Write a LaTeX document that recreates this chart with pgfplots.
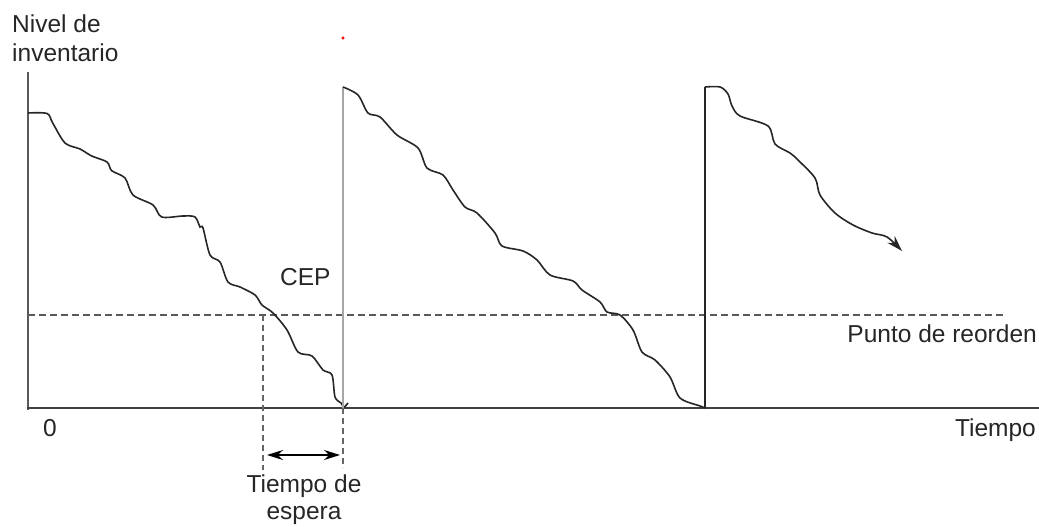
\documentclass[border=0pt]{standalone}
\usepackage{pgfplots}
\pgfplotsset{compat=1.18}
\usepackage{fontspec}
\setmainfont{Liberation Sans}
\usetikzlibrary{arrows.meta}
\begin{document}
\fontsize{24.5}{29}\selectfont
\begin{tikzpicture}
\begin{axis}[
  width=1039pt, height=527pt, scale only axis,
  xmin=-28, xmax=1011, ymin=-119, ymax=408,
  hide axis, clip=false,
]
% axes
\addplot[gray!70!black, line width=1.8pt] coordinates {(0,-2) (0,336)};
\addplot[gray!50!black, line width=1.8pt] coordinates {(-1,0) (1011,0)};
% reorder point
\addplot[gray!70!black, line width=1.7pt, dash pattern=on 7pt off 4pt] coordinates {(0,93) (975,93)};
% lead time dashed verticals
\addplot[gray!80!black, line width=1.3pt, dash pattern=on 6pt off 4pt] coordinates {(235,93) (235,-62)};
\addplot[gray!80!black, line width=1.3pt, dash pattern=on 6pt off 4pt] coordinates {(315,0) (315,-60)};
\addplot[black, line width=1.3pt, {Stealth[length=16pt,width=10pt]}-{Stealth[length=16pt,width=10pt]}] coordinates {(239,-47) (312,-47)};
% cycle 1
\addplot[black!85, line width=1.6pt, smooth, tension=0.5] coordinates {
(0,295) (19,294.5) (24.7,285) (37,265) (52,259) (63.7,252) (79,246) (83.7,237.3)
(97,230) (105,213) (125,203) (133.7,191) (155,192) (167,191) (172,181) (175,180)
(182,153) (192,146) (200,126) (212,121) (227,113) (234,103) (245,95) (259,78)
(270,56) (284,52) (295,38) (304,33) (307,11) (313,5) (316,1) (320,5)};
\addplot[gray!70, line width=2pt] coordinates {(315,0) (315,321)};
% cycle 2
\addplot[black!85, line width=1.6pt, smooth, tension=0.5] coordinates {
(315,321) (330,313) (340,295) (352,291) (369,273) (390,260) (399,240) (415,233)
(425,218) (437,201) (449,195) (467,175) (474,162) (495,157) (509,148) (522,133)
(545,127) (554,118) (572,106) (579,96) (592,93) (605,78) (614,56) (627,48)
(642,31) (652,10) (672,2) (677,0)};
\addplot[black!85, line width=1.5pt] coordinates {(677,0) (677,321)};
% cycle 3
\addplot[black!85, line width=1.6pt, smooth, tension=0.5, -{Stealth[length=16pt,width=10pt]}] coordinates {
(677,321) (692,321) (700,314) (704,302) (712,292) (740,282) (747,264) (762,255)
(770,248) (787,230) (792,213) (807,195) (825,183) (844,175) (859,171) (874,157)};
% red dot
\addplot[only marks, mark=*, mark size=1.3pt, red] coordinates {(315,370)};
% labels
\node[anchor=base west, inner sep=0, text=black!85] at (axis cs:-16,375) {Nivel de};
\node[anchor=base west, inner sep=0, text=black!85] at (axis cs:-16,346) {inventario};
\node[anchor=base west, inner sep=0, text=black!85] at (axis cs:252,122) {CEP};
\node[anchor=base east, inner sep=0, text=black!85] at (axis cs:1009,65) {Punto de reorden};
\node[anchor=base east, inner sep=0, text=black!85] at (axis cs:1008,-29) {Tiempo};
\node[anchor=base, inner sep=0, text=black!85] at (axis cs:22,-29) {0};
\node[anchor=base, inner sep=0, text=black!85] at (axis cs:276,-85) {Tiempo de};
\node[anchor=base, inner sep=0, text=black!85] at (axis cs:276,-112) {espera};
\end{axis}
\pgfresetboundingbox
\path (current axis.south west) rectangle (current axis.north east);
\end{tikzpicture}
\end{document}
